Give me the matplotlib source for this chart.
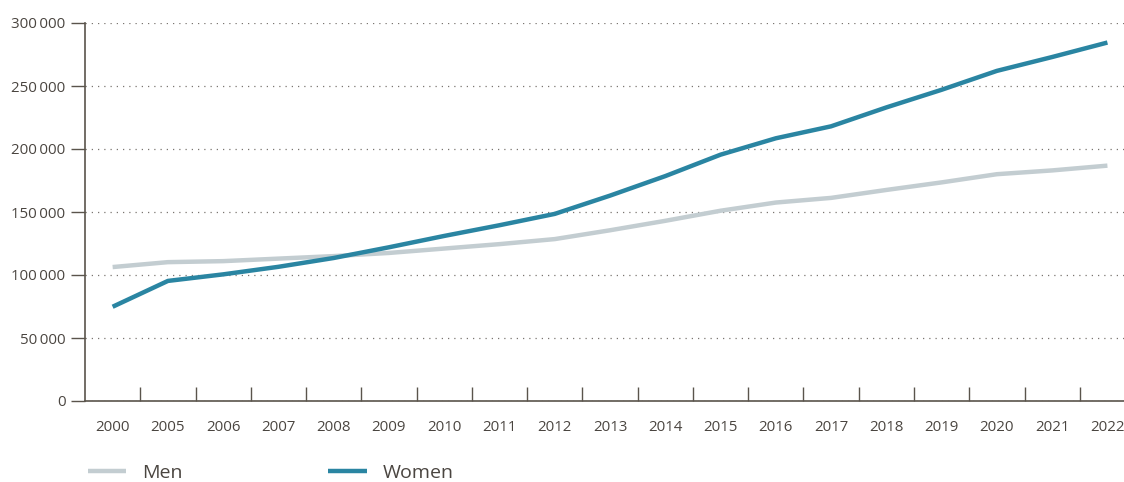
import matplotlib
matplotlib.use("Agg")
import matplotlib.pyplot as plt
from matplotlib.ticker import FuncFormatter

# data
years = ["2000", "2005", "2006", "2007", "2008", "2009", "2010", "2011", "2012", "2013",
         "2014", "2015", "2016", "2017", "2018", "2019", "2020", "2021", "2022"]
men = [106300, 110200, 111000, 113000, 115000, 117500, 121000, 124500, 128500, 135500,
       143000, 151000, 157500, 161200, 167500, 173500, 180000, 183000, 186800]
women = [74800, 95300, 100500, 106500, 113500, 122000, 131000, 139500, 148500, 163000,
         178500, 195500, 208500, 218000, 233000, 247000, 262000, 273000, 284500]

plt.rcParams["font.family"] = ["Open Sans", "DejaVu Sans"]
text_col = "#4a4540"
axis_col = "#5a544c"

fig = plt.figure(figsize=(11.24, 4.82), dpi=100)
ax = fig.add_axes([85 / 1124, 81 / 482, 1 - 85 / 1124, 378 / 482])

x = list(range(len(years)))
ax.plot(x, men, color="#c3cdd1", lw=3.2, solid_capstyle="butt", label="Men", zorder=3)
ax.plot(x, women, color="#2a85a2", lw=3.2, solid_capstyle="butt", label="Women", zorder=4)

ax.set_xlim(-0.5, 18.3)
ax.set_ylim(0, 300000)

ax.set_yticks(range(0, 300001, 50000))
ax.yaxis.set_major_formatter(FuncFormatter(lambda v, p: f"{int(v):,}".replace(",", "\u2009")))
ax.tick_params(axis="y", direction="out", length=10, width=1, color=axis_col,
               labelsize=10.8, labelcolor=text_col, pad=4)
ax.yaxis.grid(True, linestyle=(0, (1, 4)), color="#7a7570", lw=0.9)
ax.set_axisbelow(True)

# labels at category centres, tick marks between categories
ax.set_xticks(x)
ax.set_xticklabels(years)
ax.tick_params(axis="x", which="major", length=0, labelsize=10.8, labelcolor=text_col, pad=14)
ax.set_xticks([i + 0.5 for i in range(len(years) - 1)], minor=True)
ax.tick_params(axis="x", which="minor", direction="in", length=10, width=1, color=axis_col)

for s in ["top", "right"]:
    ax.spines[s].set_visible(False)
for s in ["left", "bottom"]:
    ax.spines[s].set_color(axis_col)
    ax.spines[s].set_linewidth(1.2)

ax.legend(loc="center left", bbox_to_anchor=(70 / 1124, 9 / 482),
          bbox_transform=fig.transFigure, ncol=2, frameon=False, fontsize=14,
          handlelength=2.0, handletextpad=0.8, columnspacing=7.5, labelcolor=text_col)

fig.savefig("out.png", dpi=100)
